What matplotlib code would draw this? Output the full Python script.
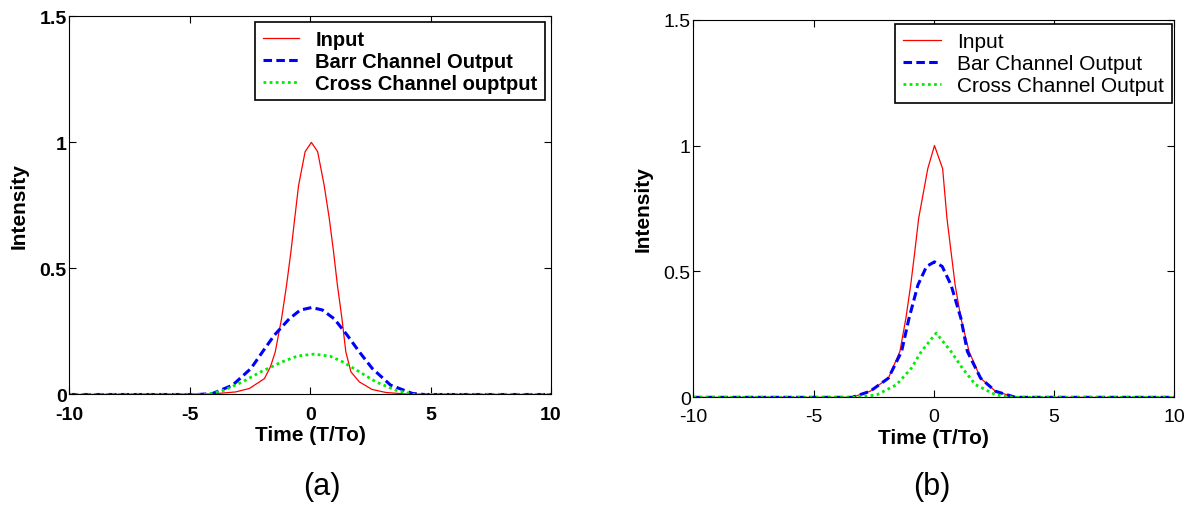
import matplotlib
matplotlib.use("Agg")
import matplotlib.pyplot as plt
from matplotlib.ticker import FormatStrFormatter

plt.rcParams['font.family'] = ['Liberation Sans', 'DejaVu Sans']
plt.rcParams['axes.unicode_minus'] = False

# (a) input pulse and coupler outputs
t_in_a = [-10, -4.1, -3.1, -2.52, -1.9, -1.65, -1.45, -1.19, -0.98, -0.8, -0.64, -0.48, -0.21,
          0.05, 0.31, 0.58, 0.79, 0.97, 1.13, 1.32, 1.48, 1.69, 2.04, 2.57, 3.14, 4.1, 10]
i_in_a = [0, 0.002, 0.01, 0.024, 0.063, 0.11, 0.169, 0.30, 0.434, 0.566, 0.70, 0.83, 0.963,
          1.0, 0.963, 0.83, 0.70, 0.566, 0.434, 0.30, 0.169, 0.09, 0.05, 0.02, 0.008, 0.001, 0]
t_bar_a = [-10, -4.65, -4.05, -3.22, -2.46, -1.98, -1.49, -0.87, -0.41, 0.07,
           0.51, 1.0, 1.54, 2.04, 2.58, 3.34, 4.25, 4.75, 10]
i_bar_a = [0, 0, 0.004, 0.037, 0.103, 0.169, 0.235, 0.30, 0.335, 0.345,
           0.335, 0.30, 0.235, 0.169, 0.103, 0.037, 0.004, 0, 0]
t_cross_a = [-10, -4.3, -3.57, -2.81, -2.05, -1.15, -0.51, 0.16, 0.82, 1.34, 2.04, 2.73, 3.56, 4.3, 10]
i_cross_a = [0, 0, 0.017, 0.05, 0.09, 0.13, 0.153, 0.16, 0.152, 0.13, 0.09, 0.05, 0.017, 0, 0]

# (b)
t_in_b = [-10, -3.4, -2.65, -1.89, -1.41, -1.16, -0.96, -0.79, -0.63, -0.25, 0.03,
          0.37, 0.55, 0.72, 0.89, 1.13, 1.47, 1.95, 2.57, 3.4, 10]
i_in_b = [0, 0, 0.024, 0.076, 0.182, 0.314, 0.446, 0.578, 0.71, 0.908, 1.0,
          0.908, 0.71, 0.578, 0.446, 0.314, 0.182, 0.076, 0.024, 0, 0]
t_bar_b = [-10, -3.4, -2.65, -1.89, -1.34, -1.03, -0.66, -0.3, 0.03, 0.35, 0.72, 1.13, 1.40,
           1.95, 2.57, 3.4, 10]
i_bar_b = [0, 0, 0.024, 0.076, 0.182, 0.314, 0.446, 0.52, 0.538, 0.52, 0.446, 0.314, 0.182,
           0.076, 0.024, 0, 0]
t_cross_b = [-10, -3.2, -2.37, -1.55, -0.93, -0.52, 0.1, 0.72, 1.19, 1.74, 2.57, 3.3, 10]
i_cross_b = [0, 0, 0.010, 0.050, 0.116, 0.182, 0.255, 0.182, 0.116, 0.050, 0.010, 0, 0]

labels_a = ['Input', 'Barr Channel Output', 'Cross Channel ouptput']
labels_b = ['Input', 'Bar Channel Output', 'Cross Channel Output']


def draw_panel(ax, series, labels, bold_text, legend_anchor, fig):
    (t1, y1), (t2, y2), (t3, y3) = series
    ax.plot(t1, y1, color='red', lw=0.9, label=labels[0])
    ax.plot(t2, y2, color='blue', lw=2.2, ls=(0, (2.8, 1.4)), label=labels[1])
    ax.plot(t3, y3, color='#00ee00', lw=2, ls=(0, (1, 1.2)), label=labels[2])
    ax.set_xlim(-10, 10)
    ax.set_ylim(0, 1.5)
    ax.set_xticks([-10, -5, 0, 5, 10])
    ax.set_yticks([0, 0.5, 1, 1.5])
    ax.yaxis.set_major_formatter(FormatStrFormatter('%g'))
    ax.tick_params(direction='in', length=5, width=0.8, top=True, right=True,
                   labelsize=14)
    ax.tick_params(axis='x', pad=8)
    ax.tick_params(axis='y', pad=2)
    weight = 'bold' if bold_text else 'normal'
    for lab in ax.get_xticklabels() + ax.get_yticklabels():
        lab.set_fontweight(weight)
    ax.set_xlabel('Time (T/To)', fontsize=15, fontweight='bold', labelpad=2)
    ax.set_ylabel('Intensity', fontsize=15, fontweight='bold', labelpad=8)
    leg = ax.legend(loc='upper right', bbox_to_anchor=legend_anchor,
                    bbox_transform=fig.transFigure, borderaxespad=0,
                    fancybox=False, framealpha=1, edgecolor='black',
                    handlelength=1.8, handletextpad=0.8, labelspacing=0.15,
                    borderpad=0.38, prop={'size': 14.5 if bold_text else 15,
                                          'weight': weight})
    leg.get_frame().set_linewidth(1.2)


fig = plt.figure(figsize=(11.93, 5.06), dpi=100)
ax_a = fig.add_axes([0.0581, 0.2184, 0.4038, 0.7474])
ax_b = fig.add_axes([0.5813, 0.2128, 0.4028, 0.7463])

draw_panel(ax_a, [(t_in_a, i_in_a), (t_bar_a, i_bar_a), (t_cross_a, i_cross_a)],
           labels_a, True, (0.4568, 0.9545), fig)
draw_panel(ax_b, [(t_in_b, i_in_b), (t_bar_b, i_bar_b), (t_cross_b, i_cross_b)],
           labels_b, False, (0.9824, 0.9506), fig)

fig.text(321.7 / 1193, 1 - 487 / 506, '(a)', fontsize=22, ha='center', va='center')
fig.text(931.7 / 1193, 1 - 487 / 506, '(b)', fontsize=22, ha='center', va='center')

fig.savefig('out.png', dpi=100)
